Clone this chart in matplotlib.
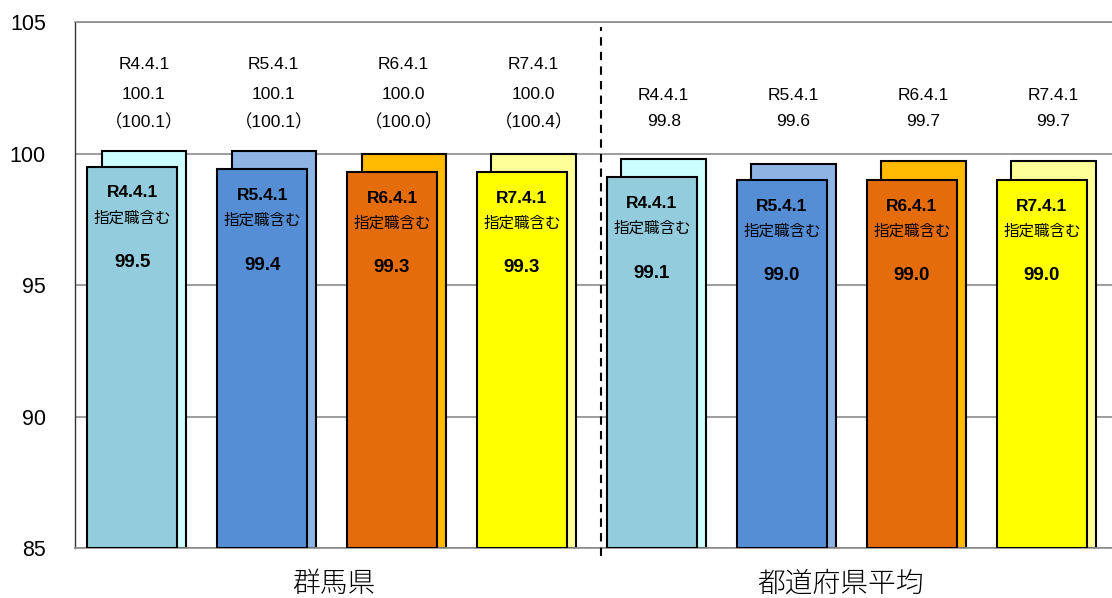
import matplotlib
matplotlib.use('Agg')
import matplotlib.pyplot as plt
import numpy as np

plt.rcParams['font.family'] = ['Liberation Sans', 'Noto Sans CJK JP', 'DejaVu Sans']

#Data
dates = ['R4.4.1', 'R5.4.1', 'R6.4.1', 'R7.4.1', 'R4.4.1', 'R5.4.1', 'R6.4.1', 'R7.4.1']
back_values = [100.1, 100.1, 100.0, 100.0, 99.8, 99.6, 99.7, 99.7]
front_values = [99.5, 99.4, 99.3, 99.3, 99.1, 99.0, 99.0, 99.0]
gunma_paren = ['（100.1）', '（100.1）', '（100.0）', '（100.4）']
group_names = ['群馬県', '都道府県平均']
front_colors = ['#93CDDD', '#558ED5', '#E46C0A', '#FFFF00'] * 2
back_colors = ['#CCFFFF', '#8EB4E3', '#FFB900', '#FFFF99'] * 2

x = np.arange(len(dates))
base = 85

fig = plt.figure(figsize=(11.12, 5.98), dpi=100)
ax = fig.add_axes([0.0674, 0.0836, 0.9326, 0.8796])

#Grid lines and frame
ax.set_ylim(85, 105)
ax.set_xlim(-0.44, 7.54)
ax.set_yticks([85, 90, 95, 100, 105])
ax.yaxis.grid(True, color='#8c8c8c', linewidth=1.2)
ax.set_axisbelow(True)
ax.tick_params(axis='y', length=0, pad=21, labelsize=15.5)
ax.set_xticks([])
ax.spines['right'].set_visible(False)
for side in ['top', 'bottom']:
    ax.spines[side].set_color('#8c8c8c')
    ax.spines[side].set_linewidth(1.2)
ax.spines['left'].set_color('#333333')
ax.spines['left'].set_linewidth(1.0)

#Back bars (excluding designated posts) and front bars (including them)
offset = 0.09
ax.bar(x + offset, np.array(back_values) - base, bottom=base, width=0.65,
       color=back_colors, edgecolor='black', linewidth=1.5, zorder=2)
ax.bar(x, np.array(front_values) - base, bottom=base, width=0.69,
       color=front_colors, edgecolor='black', linewidth=1.5, zorder=3)

#Labels above the bars
for i in range(len(dates)):
    xc = x[i] + offset
    if i < 4:
        ax.text(xc, 103.4, dates[i], ha='center', va='center', fontsize=12.5)
        ax.text(xc, 102.26, f'{back_values[i]:.1f}', ha='center', va='center', fontsize=12.5)
        ax.text(xc, 101.2, gunma_paren[i], ha='center', va='center', fontsize=12.5)
    else:
        ax.text(xc, 102.22, dates[i], ha='center', va='center', fontsize=12.5)
        ax.text(xc, 101.2, f'{back_values[i]:.1f}', ha='center', va='center', fontsize=12.5)

#Labels inside the front bars
for i in range(len(dates)):
    v = front_values[i]
    ax.text(x[i], v - 1.0, dates[i], ha='center', va='center', fontsize=12.5,
            fontweight='bold', zorder=4)
    ax.text(x[i], v - 1.95, '指定職含む', ha='center', va='center', fontsize=11.2,
            zorder=4)
    ax.text(x[i], v - 3.65, f'{v:.1f}', ha='center', va='center', fontsize=13.5,
            fontweight='bold', zorder=4)

#Dashed divider between the two groups
ax.plot([3.61, 3.61], [84.7, 104.8], color='black', linestyle=(0, (4, 3)),
        linewidth=1.5, clip_on=False, zorder=4)

#Group names
ax.text(1.55, 83.65, group_names[0], ha='center', va='center', fontsize=20,
        family=['Noto Sans CJK JP'], fontweight='light', clip_on=False)
ax.text(5.45, 83.65, group_names[1], ha='center', va='center', fontsize=20,
        family=['Noto Sans CJK JP'], fontweight='light', clip_on=False)

fig.savefig('out.png', dpi=100)
